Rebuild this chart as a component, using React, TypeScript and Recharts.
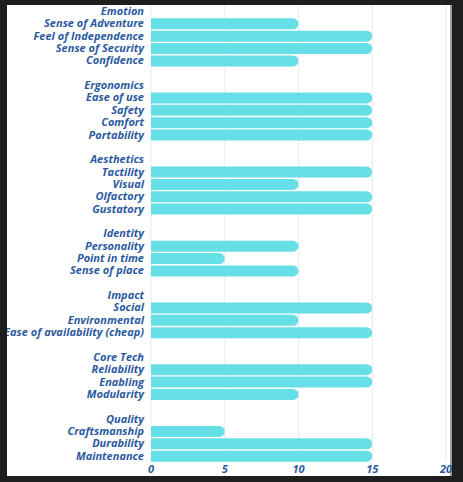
import { BarChart, Bar, XAxis, YAxis, CartesianGrid } from "recharts"

const groups = ["Emotion", "Ergonomics", "Aesthetics", "Identity", "Impact", "Core Tech", "Quality"]

const items = [
  ["Sense of Adventure", "Feel of Independence", "Sense of Security", "Confidence"],
  ["Ease of use", "Safety", "Comfort", "Portability"],
  ["Tactility", "Visual", "Olfactory", "Gustatory"],
  ["Personality", "Point in time", "Sense of place"],
  ["Social", "Environmental", "Ease of availability (cheap)"],
  ["Reliability", "Enabling", "Modularity"],
  ["Craftsmanship", "Durability", "Maintenance"],
]

const values = [
  [10, 15, 15, 10],
  [15, 15, 15, 15],
  [15, 10, 15, 15],
  [10, 5, 10],
  [15, 10, 15],
  [15, 15, 10],
  [5, 15, 15],
]

const xTicks = [0, 5, 10, 15, 20]

// header row, item rows, then a blank spacer between groups
const rows: { id: string; label: string; score: number | null }[] = []
groups.forEach((g, gi) => {
  rows.push({ id: `h${gi}`, label: g, score: null })
  items[gi].forEach((it, ii) => {
    rows.push({ id: `i${gi}-${ii}`, label: it, score: values[gi][ii] })
  })
  if (gi < groups.length - 1) rows.push({ id: `s${gi}`, label: "", score: null })
})

const labelById: Record<string, string> = {}
rows.forEach((r) => (labelById[r.id] = r.label))

const textColor = "#2c5aa0"
const fontProps = { fontSize: 11, fill: textColor, fontWeight: 700, fontStyle: "italic", fontFamily: "Open Sans" }

function YTick(props: any) {
  const { x, y, payload } = props
  return (
    <text x={x} y={y} dy="0.35em" textAnchor="end" {...fontProps}>
      {labelById[payload.value]}
    </text>
  )
}

function XTick(props: any) {
  const { x, y, payload } = props
  return (
    <text x={x} y={y} dy="0.8em" textAnchor="middle" {...fontProps}>
      {payload.value}
    </text>
  )
}

export default function App() {
  return (
    <div style={{ position: "absolute", left: 0, top: 0, width: 463, height: 482, background: "#1e1e1e" }}>
      <div
        style={{
          position: "absolute",
          left: 7,
          top: 5,
          width: 445,
          height: 471,
          background: "#ffffff",
          borderRight: "2px solid #9c9c9c",
          boxSizing: "border-box",
        }}
      >
        <BarChart
          width={445}
          height={480}
          data={rows}
          layout="vertical"
          margin={{ top: 0, right: 6, left: 0, bottom: 9 }}
          barSize={11}
        >
          <CartesianGrid horizontal={false} stroke="#e6ecf0" />
          <XAxis
            type="number"
            domain={[0, 20]}
            ticks={xTicks}
            height={14}
            tick={<XTick />}
            tickSize={0}
            tickMargin={2}
            axisLine={false}
            tickLine={false}
            interval={0}
          />
          <YAxis
            type="category"
            dataKey="id"
            width={144}
            tick={<YTick />}
            tickSize={0}
            tickMargin={7}
            axisLine={false}
            tickLine={false}
            interval={0}
          />
          <Bar dataKey="score" fill="#66e0e6" radius={[0, 6, 6, 0]} isAnimationActive={false} />
        </BarChart>
      </div>
    </div>
  )
}
